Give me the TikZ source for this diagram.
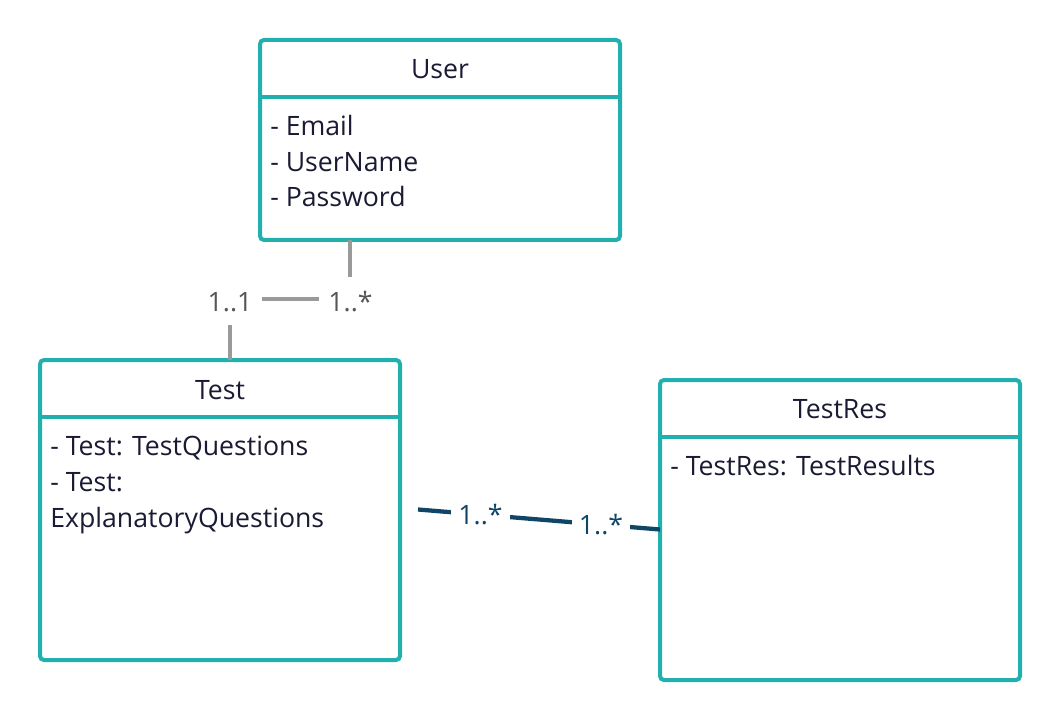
\documentclass[tikz,border=0pt]{standalone}
\usepackage{fontspec}
\setmainfont{Open Sans}
\definecolor{teal1}{HTML}{22B0AE}
\definecolor{txt}{HTML}{1A1A33}
\definecolor{gline}{HTML}{9A9A9A}
\definecolor{glab}{HTML}{555555}
\definecolor{bline}{HTML}{0F4566}
\tikzset{
  cls/.style={draw=teal1, line width=3pt, rounded corners=3pt, anchor=north west, inner sep=0pt, outer sep=0pt},
  div/.style={draw=teal1, line width=3pt},
  ttl/.style={text=txt, font=\fontsize{20}{24}\selectfont, inner sep=0pt, anchor=base},
  attr/.style={text=txt, font=\fontsize{20}{24}\selectfont, anchor=base west, inner sep=0pt},
  glink/.style={draw=gline, line width=3pt},
  blink/.style={draw=bline, line width=3.2pt},
  glbl/.style={text=glab, fill=white, font=\fontsize{20}{24}\selectfont, inner xsep=7pt, inner ysep=10.5pt, anchor=base},
  blbl/.style={text=bline, fill=white, font=\fontsize{20}{24}\selectfont, inner xsep=5.5pt, inner ysep=3pt, anchor=base}
}
\begin{document}
\begin{tikzpicture}[x=0.75pt,y=-0.75pt]
\useasboundingbox (0,0) rectangle (1060,720);
% classes
\node[cls, minimum width=270pt, minimum height=150pt] (user) at (260,40) {};
\node[cls, minimum width=270pt, minimum height=225pt] (test) at (40,360) {};
\node[cls, minimum width=270pt, minimum height=225pt] (res) at (660,380) {};
% dividers
\coordinate (ud1) at (260,97); \coordinate (ud2) at (620,97);
\draw[div] (ud1) -- (ud2);
\coordinate (td1) at (40,416.5); \coordinate (td2) at (400,416.5);
\draw[div] (td1) -- (td2);
\coordinate (rd1) at (660,436.5); \coordinate (rd2) at (1020,436.5);
\draw[div] (rd1) -- (rd2);
% titles
\node[ttl] (ut) at (440,78.5) {User};
\node[ttl] (tt) at (220,399) {Test};
\node[ttl] (rt) at (840,418.5) {TestRes};
% attributes
\node[attr] (ua1) at (270,136) {- Email};
\node[attr] (ua2) at (270,171.5) {- UserName};
\node[attr] (ua3) at (270,207) {- Password};
\node[attr] (ta1) at (50,455) {- Test: TestQuestions};
\node[attr] (ta2) at (50,491.5) {- Test:};
\node[attr] (ta3) at (50,527.5) {ExplanatoryQuestions};
\node[attr] (ra1) at (670,475) {- TestRes: TestResults};
% gray association
\coordinate (g1) at (350,240);
\coordinate (g2) at (350,299);
\coordinate (g3) at (230,299);
\coordinate (g4) at (230,360);
\draw[glink] (g1) -- (g2) -- (g3) -- (g4);
\node[glbl] (gl1) at (350.5,311) {1..*};
\node[glbl] (gl2) at (230,311) {1..1};
% blue association
\coordinate (b1) at (418,509.5);
\coordinate (b2) at (660,529.5);
\draw[blink] (b1) -- (b2);
\node[blbl] (bl1) at (480.5,524.5) {1..*};
\node[blbl] (bl2) at (601,534.5) {1..*};
\end{tikzpicture}
\end{document}
